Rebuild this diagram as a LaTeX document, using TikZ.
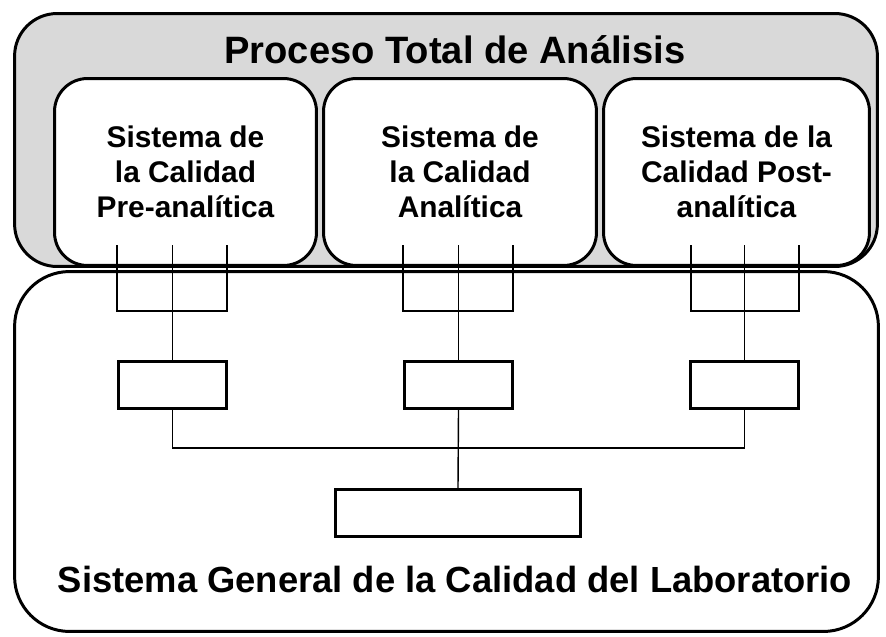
\documentclass[tikz,border=0pt]{standalone}
\usepackage{fontspec}
\setmainfont{Liberation Sans}
\usetikzlibrary{positioning}

\begin{document}
\begin{tikzpicture}[
    x=0.02cm, y=-0.02cm,
    proceso/.style={rectangle, rounded corners=0.85cm, draw=black, line width=1.7pt,
                    fill=black!15, minimum width=17.26cm, minimum height=5.06cm},
    general/.style={rectangle, rounded corners=1.1cm, draw=black, line width=1.7pt,
                    fill=white, minimum width=17.28cm, minimum height=7.2cm},
    sistema/.style={rectangle, rounded corners=0.66cm, draw=black, line width=1.7pt,
                    fill=white, minimum height=3.74cm, align=center,
                    font=\fontsize{17}{19.9}\selectfont\bfseries},
    caja/.style={rectangle, draw=black, line width=1.7pt, fill=white,
                 minimum width=2.16cm, minimum height=0.94cm},
    titulo/.style={anchor=base, inner sep=0pt, font=\bfseries},
    conn/.style={line width=0.8pt}
  ]
    \useasboundingbox (0,0) rectangle (886,636);

    % Outer frames
    \node[proceso] (proceso) at (446,140) {};
    \node[general] (general) at (446.5,451.5) {};
    \node[titulo, font=\fontsize{21.7}{26}\selectfont\bfseries] (tproceso) at (455,63) {Proceso Total de Análisis};
    \node[titulo, font=\fontsize{20.7}{25}\selectfont\bfseries] (tgeneral) at (455,592) {Sistema General de la Calidad del Laboratorio};

    % Sub-systems
    \node[sistema, minimum width=5.24cm] (pre) at (185.5,172) {Sistema de\\la Calidad\\Pre-analítica};
    \node[sistema, minimum width=5.46cm] (ana) at (460,172) {Sistema de\\la Calidad\\Analítica};
    \node[sistema, minimum width=5.32cm] (post) at (736.5,172) {Sistema de la\\Calidad Post-\\analítica};

    % Small boxes
    \node[caja] (cpre) at (172.5,385) {};
    \node[caja] (cana) at (458.5,385) {};
    \node[caja] (cpost) at (744.5,385) {};
    \node[caja, minimum width=4.9cm] (total) at (458,513) {};

    % Connector end points
    \coordinate (pre1) at (117,245);
    \coordinate (pre2) at (172.5,245);
    \coordinate (pre3) at (227,245);
    \coordinate (jpre) at (172.5,311);
    \coordinate (ana1) at (403,245);
    \coordinate (ana2) at (458.5,245);
    \coordinate (ana3) at (513,245);
    \coordinate (jana) at (458.5,311);
    \coordinate (post1) at (691,245);
    \coordinate (post2) at (744.5,245);
    \coordinate (post3) at (799,245);
    \coordinate (jpost) at (744.5,311);
    \coordinate (bus) at (458.5,448);

    % Connectors
    \draw[conn] (pre1) |- (jpre) -| (pre3);
    \draw[conn] (pre2) -- (cpre.north);
    \draw[conn] (ana1) |- (jana) -| (ana3);
    \draw[conn] (ana2) -- (cana.north);
    \draw[conn] (post1) |- (jpost) -| (post3);
    \draw[conn] (post2) -- (cpost.north);

    \draw[conn] (cpre.south) |- (bus) -| (cpost.south);
    \draw[conn] (cana.south) -- (total.north);

\end{tikzpicture}
\end{document}
